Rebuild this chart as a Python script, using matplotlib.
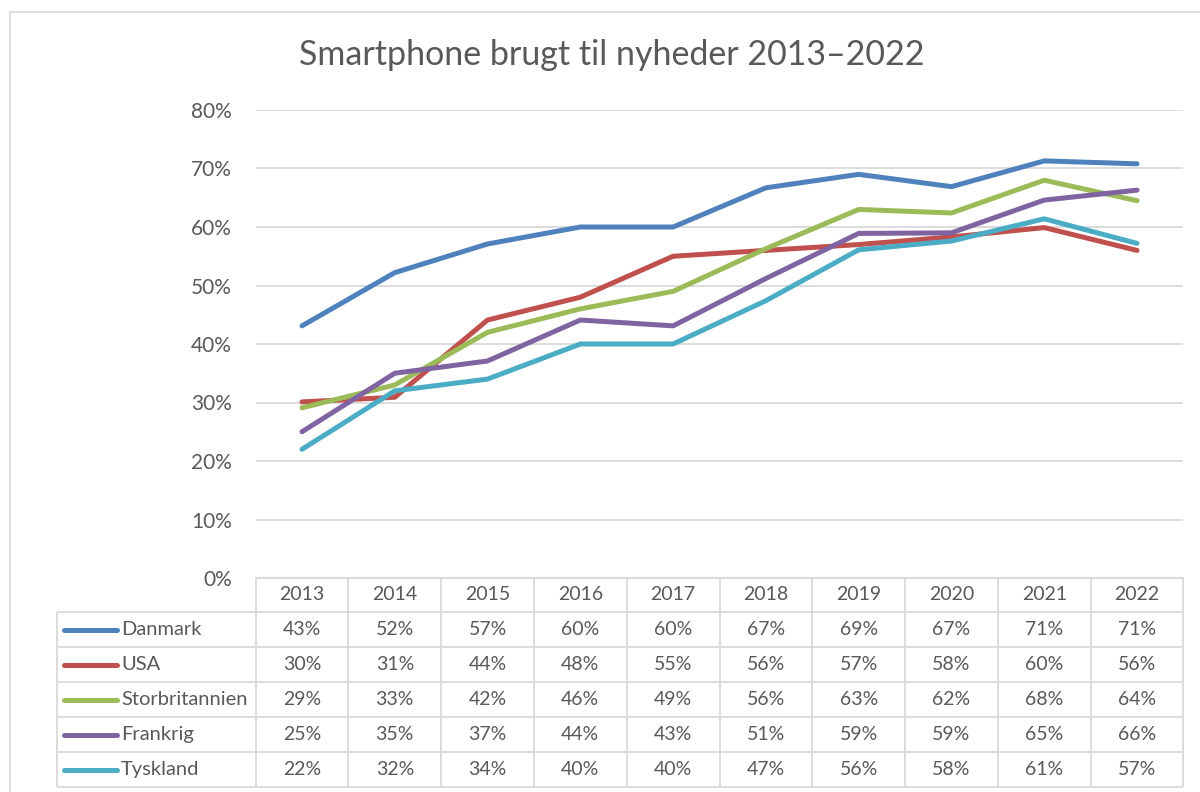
import matplotlib
matplotlib.use('Agg')
import matplotlib.pyplot as plt
from matplotlib.transforms import blended_transform_factory
from matplotlib.lines import Line2D
from matplotlib.patches import Rectangle

plt.rcParams['font.family'] = ['Lato', 'DejaVu Sans']

years = ['2013', '2014', '2015', '2016', '2017', '2018', '2019', '2020', '2021', '2022']
countries = ['Danmark', 'USA', 'Storbritannien', 'Frankrig', 'Tyskland']
danmark = [43.1, 52.2, 57.1, 60.0, 60.0, 66.7, 69.0, 66.9, 71.3, 70.8]
usa = [30.1, 30.9, 44.1, 48.0, 55.0, 56.0, 57.0, 58.3, 59.9, 56.0]
storbritannien = [29.1, 33.0, 42.0, 46.0, 49.0, 56.3, 63.0, 62.4, 68.0, 64.5]
frankrig = [25.0, 35.0, 37.1, 44.1, 43.1, 51.2, 58.9, 59.0, 64.6, 66.3]
tyskland = [22.0, 32.0, 34.0, 40.0, 40.0, 47.4, 56.1, 57.6, 61.4, 57.2]
series = [danmark, usa, storbritannien, frankrig, tyskland]
colors = ['#4F81BD', '#C0504D', '#9BBB59', '#8064A2', '#4BACC6']

text_col = '#595959'
grid_col = '#D9D9D9'
W, H = 1200, 792


def fx(px):
    return px / W


def fy(py):
    return 1 - py / H


fig = plt.figure(figsize=(12, 7.92), dpi=100)
fig.patches.append(Rectangle((fx(10), -0.1), 1.2, fy(12) + 0.1, fill=False,
                             edgecolor=grid_col, lw=1.2, transform=fig.transFigure))

ax = fig.add_axes([fx(255.6), fy(578), fx(1183.4 - 255.6), fy(110) - fy(578)])
x = range(len(years))
for vals, c in zip(series, colors):
    ax.plot(x, vals, color=c, lw=3.6, solid_capstyle='round', solid_joinstyle='round', zorder=3)

ax.set_xlim(-0.5, len(years) - 0.5)
ax.set_ylim(0, 80)
ax.set_yticks(range(0, 81, 10))
ax.set_yticklabels([f'{v}%' for v in range(0, 81, 10)])
ax.set_xticks([])
ax.tick_params(axis='y', length=0, pad=17, labelsize=15, labelcolor=text_col)
for s in ['top', 'right', 'left']:
    ax.spines[s].set_visible(False)
ax.spines['bottom'].set_color(grid_col)
ax.spines['bottom'].set_linewidth(1.3)
ax.grid(axis='y', color=grid_col, lw=1.3)
ax.set_axisbelow(True)

fig.text(0.51, fy(55), 'Smartphone brugt til nyheder 2013\u20132022', ha='center', va='center',
         fontsize=24.5, color=text_col)

# data table below the axes
tr = blended_transform_factory(ax.transData, fig.transFigure)
rows = [578, 612, 647, 682, 717, 752, 787]
right = ax.get_position().x1
lkw = dict(color=grid_col, lw=1.3, solid_capstyle='butt')
for r in rows[1:]:
    fig.add_artist(Line2D([fx(57), right], [fy(r), fy(r)], transform=fig.transFigure, **lkw))
fig.add_artist(Line2D([fx(57), fx(57)], [fy(rows[1]), fy(rows[-1])], transform=fig.transFigure, **lkw))
for i in range(len(years) + 1):
    ax.plot([i - 0.5, i - 0.5], [fy(rows[0]), fy(rows[-1])], transform=tr, clip_on=False, **lkw)

for i, yr in enumerate(years):
    ax.text(i, fy((rows[0] + rows[1]) / 2), yr, transform=tr, ha='center', va='center',
            fontsize=14, color=text_col)

for k, (name, vals, c) in enumerate(zip(countries, series, colors)):
    yc = fy((rows[k + 1] + rows[k + 2]) / 2)
    fig.add_artist(Line2D([fx(64), fx(117)], [yc, yc], transform=fig.transFigure, color=c,
                          lw=3.6, solid_capstyle='round'))
    fig.text(fx(121), yc, name, ha='left', va='center', fontsize=14.5, color=text_col)
    for i, v in enumerate(vals):
        ax.text(i, yc, f'{round(v):.0f}%', transform=tr, ha='center', va='center',
                fontsize=14, color=text_col)

fig.savefig('out.png', dpi=100)
